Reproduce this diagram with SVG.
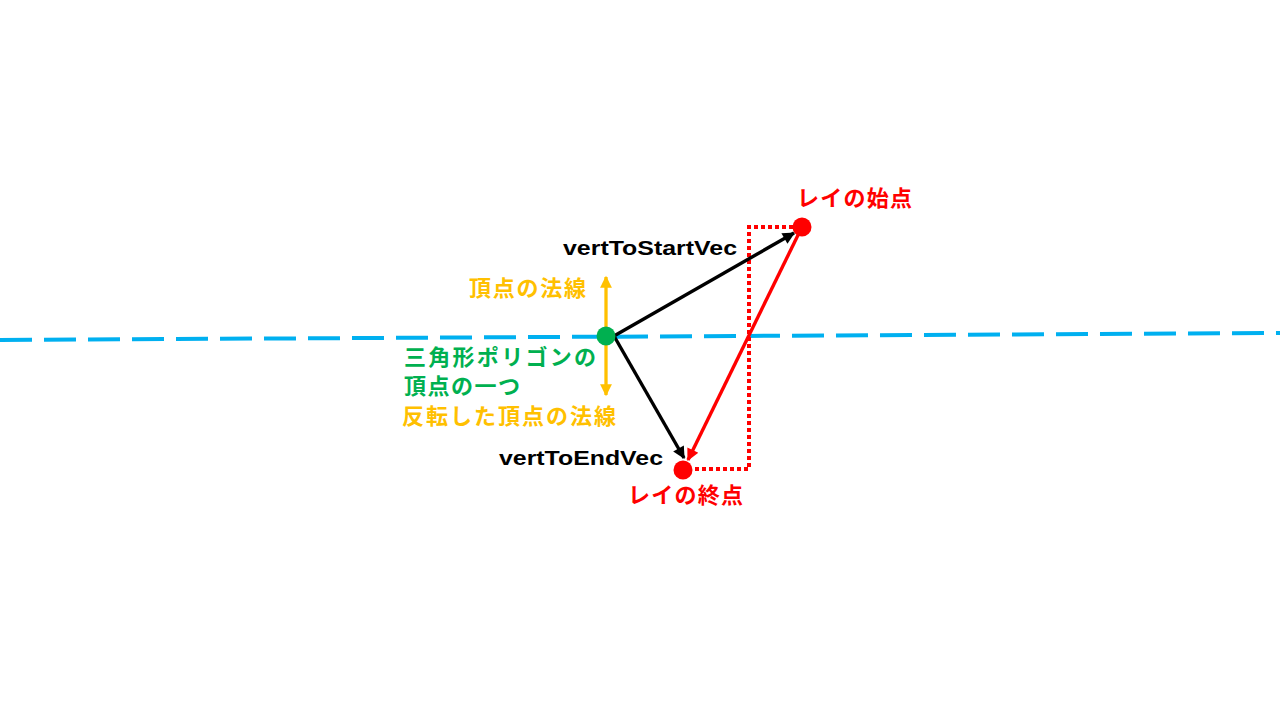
<svg xmlns="http://www.w3.org/2000/svg" width="1280" height="720" viewBox="0 0 1280 720">
<defs>
<style>
.t{font-family:"Noto Sans CJK JP","Liberation Sans",sans-serif;font-weight:bold;font-size:22px}
.l{font-family:"Liberation Sans","Noto Sans CJK JP",sans-serif;font-weight:bold;font-size:21px;fill:#000}
.red{fill:#FF0000}.org{fill:#FFC000}.grn{fill:#00B050}
</style>
<marker id="ab" viewBox="0 0 10 10" refX="9" refY="5" markerWidth="4.5" markerHeight="3.6" orient="auto" markerUnits="strokeWidth"><path d="M0,0 L10,5 L0,10 Z" fill="#000"/></marker>
<marker id="ar" viewBox="0 0 10 10" refX="9" refY="5" markerWidth="4.5" markerHeight="3.6" orient="auto" markerUnits="strokeWidth"><path d="M0,0 L10,5 L0,10 Z" fill="#FF0000"/></marker>
<marker id="ao" viewBox="0 0 10 10" refX="9" refY="5" markerWidth="4.2" markerHeight="3.6" orient="auto-start-reverse" markerUnits="strokeWidth"><path d="M0,0 L10,5 L0,10 Z" fill="#FFC000"/></marker>
</defs>
<rect width="1280" height="720" fill="#fff"/>
<g id="connectors">
<line id="plane" x1="0" y1="340" x2="1280" y2="333" stroke="#00B0F0" stroke-width="4" stroke-dasharray="32 12"/>
<line id="normals" x1="606" y1="277" x2="606" y2="395" stroke="#FFC000" stroke-width="3.3" marker-start="url(#ao)" marker-end="url(#ao)"/>
<polyline id="dotted" points="793,227 749,227 749,469 695,469" fill="none" stroke="#FF0000" stroke-width="4" stroke-dasharray="4 3"/>
<line id="ray" x1="800" y1="231" x2="688" y2="460" stroke="#FF0000" stroke-width="3.4" marker-end="url(#ar)"/>
<line id="vertToStart" x1="614" y1="336" x2="794" y2="233" stroke="#000" stroke-width="3.4" marker-end="url(#ab)"/>
<line id="vertToEnd" x1="614" y1="336" x2="684" y2="458" stroke="#000" stroke-width="3.4" marker-end="url(#ab)"/>
</g>
<g id="vertex"><circle cx="606" cy="336" r="9.5" fill="#00B050"/></g>
<g id="rayStart"><circle cx="802" cy="227" r="9.5" fill="#FF0000"/></g>
<g id="rayEnd"><circle cx="683" cy="470" r="9.5" fill="#FF0000"/></g>
<g id="labels">
<text class="t red" x="797" y="206" textLength="115" lengthAdjust="spacing">レイの始点</text>
<text class="l" x="563" y="255" textLength="174" lengthAdjust="spacingAndGlyphs">vertToStartVec</text>
<text class="t org" x="469" y="296" textLength="117" lengthAdjust="spacing">頂点の法線</text>
<text class="t grn" x="404" y="365" textLength="192" lengthAdjust="spacing">三角形ポリゴンの</text>
<text class="t grn" x="404" y="394" textLength="116" lengthAdjust="spacing">頂点の一つ</text>
<text class="t org" x="402" y="424" textLength="214" lengthAdjust="spacing">反転した頂点の法線</text>
<text class="l" x="499" y="465" textLength="164" lengthAdjust="spacingAndGlyphs">vertToEndVec</text>
<text class="t red" x="628" y="503" textLength="115" lengthAdjust="spacing">レイの終点</text>
</g>
</svg>
